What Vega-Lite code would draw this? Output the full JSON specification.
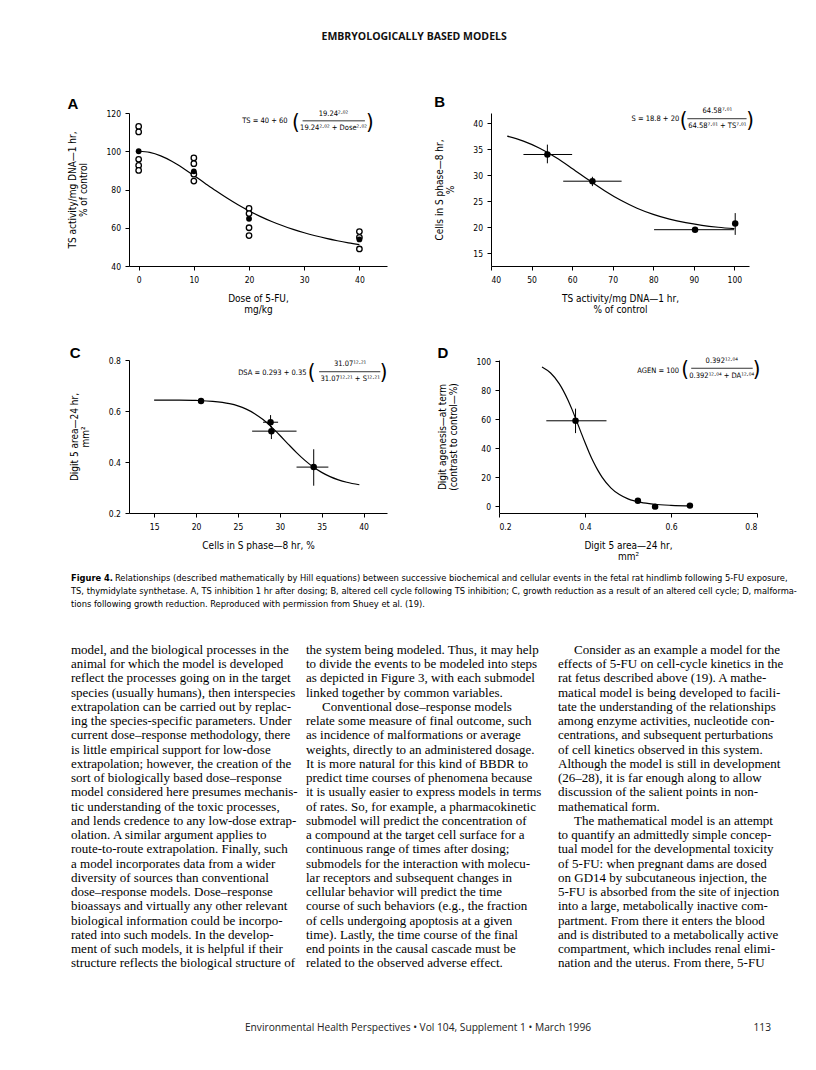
{
  "$schema": "https://vega.github.io/schema/vega-lite/v6.json",
  "padding": {"left": 67, "top": 32, "right": 5, "bottom": 5},
  "background": "white",
  "title": {"text": "EMBRYOLOGICALLY BASED MODELS", "font": "'Open Sans', sans-serif", "fontWeight": "bold", "fontSize": 10.5, "anchor": "middle", "frame": "bounds", "offset": 52.5, "dx": -18, "color": "#111"},
  "spacing": 12,
  "vconcat": [
    {
      "vconcat": [
        {
          "hconcat": [
            {
              "width": 258, "height": 153,
              "title": {"text": "A"},
              "layer": [
                {
                  "data": {"values": [
                    {"dose": 0, "ts": 100}, {"dose": 2, "ts": 99.39}, {"dose": 4, "ts": 97.59}, {"dose": 6, "ts": 94.79}, {"dose": 8, "ts": 91.28},
                    {"dose": 10, "ts": 87.37}, {"dose": 12, "ts": 83.31}, {"dose": 14, "ts": 79.31}, {"dose": 16, "ts": 75.52}, {"dose": 18, "ts": 72.01},
                    {"dose": 20, "ts": 68.82}, {"dose": 22, "ts": 65.97}, {"dose": 24, "ts": 63.41}, {"dose": 26, "ts": 61.15}, {"dose": 28, "ts": 59.15},
                    {"dose": 30, "ts": 57.37}, {"dose": 32, "ts": 55.81}, {"dose": 34, "ts": 54.42}, {"dose": 36, "ts": 53.2}, {"dose": 38, "ts": 52.11}, {"dose": 40, "ts": 51.14}
                  ]},
                  "mark": {"type": "line", "color": "#000", "strokeWidth": 1.2, "interpolate": "monotone"},
                  "encoding": {
                    "x": {"field": "dose", "type": "quantitative", "scale": {"domain": [-1.75, 45], "nice": false, "zero": false}, "axis": {"values": [0, 10, 20, 30, 40], "tickCount": 20, "title": ["Dose of 5-FU,", "mg/kg"]}},
                    "y": {"field": "ts", "type": "quantitative", "scale": {"domain": [40, 120], "nice": false, "zero": false}, "axis": {"values": [40, 60, 80, 100, 120], "tickCount": 20, "title": ["TS activity/mg DNA—1 hr,", "% of control"]}}
                  }
                },
                {
                  "data": {"values": [
                    {"dose": 0, "ts": 113.0, "kind": "individual"}, {"dose": 0, "ts": 110.1, "kind": "individual"}, {"dose": 0, "ts": 95.8, "kind": "individual"}, {"dose": 0, "ts": 92.6, "kind": "individual"}, {"dose": 0, "ts": 90.0, "kind": "individual"},
                    {"dose": 10, "ts": 96.5, "kind": "individual"}, {"dose": 10, "ts": 93.5, "kind": "individual"}, {"dose": 10, "ts": 88.0, "kind": "individual"}, {"dose": 10, "ts": 84.4, "kind": "individual"},
                    {"dose": 20, "ts": 70.1, "kind": "individual"}, {"dose": 20, "ts": 67.4, "kind": "individual"}, {"dose": 20, "ts": 60.0, "kind": "individual"}, {"dose": 20, "ts": 55.9, "kind": "individual"},
                    {"dose": 40, "ts": 58.0, "kind": "individual"}, {"dose": 40, "ts": 55.0, "kind": "individual"}, {"dose": 40, "ts": 48.9, "kind": "individual"},
                    {"dose": 0, "ts": 100, "kind": "mean"}, {"dose": 10, "ts": 89.5, "kind": "mean"}, {"dose": 20, "ts": 64.7, "kind": "mean"}, {"dose": 40, "ts": 53.9, "kind": "mean"}
                  ]},
                  "layer": [
                    {
                      "transform": [{"filter": "datum.kind === 'individual'"}],
                      "mark": {"type": "point", "shape": "circle", "filled": true, "fill": "#fff", "stroke": "#000", "strokeWidth": 1.3, "size": 30, "opacity": 1},
                      "encoding": {"x": {"field": "dose", "type": "quantitative"}, "y": {"field": "ts", "type": "quantitative"}}
                    },
                    {
                      "transform": [{"filter": "datum.kind === 'mean'"}],
                      "mark": {"type": "point", "shape": "circle", "filled": true, "color": "#000", "size": 34, "opacity": 1},
                      "encoding": {"x": {"field": "dose", "type": "quantitative"}, "y": {"field": "ts", "type": "quantitative"}}
                    }
                  ]
                },
                {"data": {"values": [{}]}, "mark": {"type": "text", "text": "TS = 40 + 60", "align": "right", "baseline": "middle", "fontSize": 7.5}, "encoding": {"x": {"datum": 27.0}, "y": {"datum": 116}}},
                {"data": {"values": [{}]}, "mark": {"type": "text", "text": "(", "align": "center", "baseline": "middle", "fontSize": 22}, "encoding": {"x": {"datum": 28.5}, "y": {"datum": 115.5}}},
                {"data": {"values": [{}]}, "mark": {"type": "text", "text": "19.24²·⁰²", "align": "center", "baseline": "middle", "fontSize": 7.5}, "encoding": {"x": {"datum": 35.3}, "y": {"datum": 119.6}}},
                {"data": {"values": [{}]}, "mark": {"type": "rule", "color": "#000", "strokeWidth": 0.8}, "encoding": {"x": {"datum": 29.7}, "x2": {"datum": 41}, "y": {"datum": 115.9}}},
                {"data": {"values": [{}]}, "mark": {"type": "text", "text": "19.24²·⁰² + Dose²·⁰²", "align": "center", "baseline": "middle", "fontSize": 7.5}, "encoding": {"x": {"datum": 35.3}, "y": {"datum": 112.2}}},
                {"data": {"values": [{}]}, "mark": {"type": "text", "text": ")", "align": "center", "baseline": "middle", "fontSize": 22}, "encoding": {"x": {"datum": 41.9}, "y": {"datum": 115.5}}}
              ]
            },
            {
              "width": 258, "height": 153,
              "title": {"text": "B"},
              "layer": [
                {
                  "data": {"values": [
                    {"ts": 44, "s": 37.53}, {"ts": 48, "s": 36.58}, {"ts": 52, "s": 35.21}, {"ts": 56, "s": 33.42}, {"ts": 60, "s": 31.32},
                    {"ts": 64, "s": 29.12}, {"ts": 68, "s": 27.01}, {"ts": 72, "s": 25.16}, {"ts": 76, "s": 23.64}, {"ts": 80, "s": 22.45},
                    {"ts": 84, "s": 21.53}, {"ts": 88, "s": 20.85}, {"ts": 92, "s": 20.34}, {"ts": 96, "s": 19.97}, {"ts": 100, "s": 19.69}
                  ]},
                  "mark": {"type": "line", "color": "#000", "strokeWidth": 1.2, "interpolate": "monotone"},
                  "encoding": {
                    "x": {"field": "ts", "type": "quantitative", "scale": {"domain": [40, 103.6], "nice": false, "zero": false}, "axis": {"values": [40, 50, 60, 70, 80, 90, 100], "tickCount": 20, "title": ["TS activity/mg DNA—1 hr,", "% of control"]}},
                    "y": {"field": "s", "type": "quantitative", "scale": {"domain": [12.5, 42], "nice": false, "zero": false}, "axis": {"values": [15, 20, 25, 30, 35, 40], "tickCount": 20, "title": ["Cells in S phase—8 hr,", "%"]}}
                  }
                },
                {
                  "data": {"values": [
                    {"ts": 53.9, "s": 34.0, "ts_lo": 48.0, "ts_hi": 60.0, "s_lo": 32.3, "s_hi": 35.9},
                    {"ts": 65.0, "s": 28.85, "ts_lo": 57.8, "ts_hi": 72.2, "s_lo": 27.9, "s_hi": 29.7},
                    {"ts": 90.3, "s": 19.5, "ts_lo": 80.2, "ts_hi": 99.9, "s_lo": 19.3, "s_hi": 19.7},
                    {"ts": 100.2, "s": 20.7, "ts_lo": 100.2, "ts_hi": 100.2, "s_lo": 18.5, "s_hi": 22.7}
                  ]},
                  "layer": [
                    {"mark": {"type": "rule", "color": "#000", "strokeWidth": 1}, "encoding": {"x": {"field": "ts_lo", "type": "quantitative"}, "x2": {"field": "ts_hi"}, "y": {"field": "s", "type": "quantitative"}}},
                    {"mark": {"type": "rule", "color": "#000", "strokeWidth": 1}, "encoding": {"x": {"field": "ts", "type": "quantitative"}, "y": {"field": "s_lo", "type": "quantitative"}, "y2": {"field": "s_hi"}}},
                    {"mark": {"type": "point", "shape": "circle", "filled": true, "color": "#000", "size": 42, "opacity": 1}, "encoding": {"x": {"field": "ts", "type": "quantitative"}, "y": {"field": "s", "type": "quantitative"}}}
                  ]
                },
                {"data": {"values": [{}]}, "mark": {"type": "text", "text": "S = 18.8 + 20", "align": "right", "baseline": "middle", "fontSize": 7.5}, "encoding": {"x": {"datum": 86.4}, "y": {"datum": 40.8}}},
                {"data": {"values": [{}]}, "mark": {"type": "text", "text": "(", "align": "center", "baseline": "middle", "fontSize": 22}, "encoding": {"x": {"datum": 87.5}, "y": {"datum": 40.6}}},
                {"data": {"values": [{}]}, "mark": {"type": "text", "text": "64.58⁷·⁰¹", "align": "center", "baseline": "middle", "fontSize": 7.5}, "encoding": {"x": {"datum": 95.8}, "y": {"datum": 42.3}}},
                {"data": {"values": [{}]}, "mark": {"type": "rule", "color": "#000", "strokeWidth": 0.8}, "encoding": {"x": {"datum": 88.4}, "x2": {"datum": 103.0}, "y": {"datum": 40.9}}},
                {"data": {"values": [{}]}, "mark": {"type": "text", "text": "64.58⁷·⁰¹ + TS⁷·⁰¹", "align": "center", "baseline": "middle", "fontSize": 7.5}, "encoding": {"x": {"datum": 95.8}, "y": {"datum": 39.4}}},
                {"data": {"values": [{}]}, "mark": {"type": "text", "text": ")", "align": "center", "baseline": "middle", "fontSize": 22}, "encoding": {"x": {"datum": 103.9}, "y": {"datum": 40.6}}}
              ]
            }
          ],
          "spacing": 47
        },
        {
          "hconcat": [
            {
              "width": 258, "height": 153,
              "title": {"text": "C", "offset": -4.5},
              "layer": [
                {
                  "data": {"values": [
                    {"s": 15, "dsa": 0.643}, {"s": 18, "dsa": 0.6426}, {"s": 20, "dsa": 0.6414}, {"s": 22, "dsa": 0.6379}, {"s": 24, "dsa": 0.6286},
                    {"s": 25, "dsa": 0.62}, {"s": 26, "dsa": 0.6073}, {"s": 27, "dsa": 0.5896}, {"s": 28, "dsa": 0.5663}, {"s": 29, "dsa": 0.5376},
                    {"s": 30, "dsa": 0.5049}, {"s": 31, "dsa": 0.4704}, {"s": 32, "dsa": 0.4369}, {"s": 33, "dsa": 0.4064}, {"s": 34, "dsa": 0.3804},
                    {"s": 35, "dsa": 0.3593}, {"s": 36, "dsa": 0.3427}, {"s": 37, "dsa": 0.3301}, {"s": 38, "dsa": 0.3206}, {"s": 39.5, "dsa": 0.3107}
                  ]},
                  "mark": {"type": "line", "color": "#000", "strokeWidth": 1.2, "interpolate": "monotone"},
                  "encoding": {
                    "x": {"field": "s", "type": "quantitative", "scale": {"domain": [12, 42.8], "nice": false, "zero": false}, "axis": {"values": [15, 20, 25, 30, 35, 40], "tickCount": 20, "title": "Cells in S phase—8 hr, %"}},
                    "y": {"field": "dsa", "type": "quantitative", "scale": {"domain": [0.2, 0.8], "nice": false, "zero": false}, "axis": {"values": [0.2, 0.4, 0.6, 0.8], "tickCount": 20, "format": ".1f", "title": ["Digit 5 area—24 hr,", "mm²"]}}
                  }
                },
                {
                  "data": {"values": [
                    {"s": 20.6, "dsa": 0.639, "s_lo": 20.6, "s_hi": 20.6, "dsa_lo": 0.639, "dsa_hi": 0.639},
                    {"s": 28.9, "dsa": 0.556, "s_lo": 28.0, "s_hi": 29.8, "dsa_lo": 0.536, "dsa_hi": 0.584},
                    {"s": 29.0, "dsa": 0.521, "s_lo": 26.7, "s_hi": 32.0, "dsa_lo": 0.49, "dsa_hi": 0.541},
                    {"s": 34.05, "dsa": 0.38, "s_lo": 32.0, "s_hi": 35.8, "dsa_lo": 0.307, "dsa_hi": 0.45}
                  ]},
                  "layer": [
                    {"mark": {"type": "rule", "color": "#000", "strokeWidth": 1}, "encoding": {"x": {"field": "s_lo", "type": "quantitative"}, "x2": {"field": "s_hi"}, "y": {"field": "dsa", "type": "quantitative"}}},
                    {"mark": {"type": "rule", "color": "#000", "strokeWidth": 1}, "encoding": {"x": {"field": "s", "type": "quantitative"}, "y": {"field": "dsa_lo", "type": "quantitative"}, "y2": {"field": "dsa_hi"}}},
                    {"mark": {"type": "point", "shape": "circle", "filled": true, "color": "#000", "size": 42, "opacity": 1}, "encoding": {"x": {"field": "s", "type": "quantitative"}, "y": {"field": "dsa", "type": "quantitative"}}}
                  ]
                },
                {"data": {"values": [{}]}, "mark": {"type": "text", "text": "DSA = 0.293 + 0.35", "align": "right", "baseline": "middle", "fontSize": 7.5}, "encoding": {"x": {"datum": 33.2}, "y": {"datum": 0.748}}},
                {"data": {"values": [{}]}, "mark": {"type": "text", "text": "(", "align": "center", "baseline": "middle", "fontSize": 22}, "encoding": {"x": {"datum": 33.8}, "y": {"datum": 0.752}}},
                {"data": {"values": [{}]}, "mark": {"type": "text", "text": "31.07¹²·²¹", "align": "center", "baseline": "middle", "fontSize": 7.5}, "encoding": {"x": {"datum": 38.4}, "y": {"datum": 0.785}}},
                {"data": {"values": [{}]}, "mark": {"type": "rule", "color": "#000", "strokeWidth": 0.8}, "encoding": {"x": {"datum": 34.7}, "x2": {"datum": 42.0}, "y": {"datum": 0.754}}},
                {"data": {"values": [{}]}, "mark": {"type": "text", "text": "31.07¹²·²¹ + S¹²·²¹", "align": "center", "baseline": "middle", "fontSize": 7.5}, "encoding": {"x": {"datum": 38.4}, "y": {"datum": 0.724}}},
                {"data": {"values": [{}]}, "mark": {"type": "text", "text": ")", "align": "center", "baseline": "middle", "fontSize": 22}, "encoding": {"x": {"datum": 42.4}, "y": {"datum": 0.752}}}
              ]
            },
            {
              "width": 258, "height": 153,
              "title": {"text": "D", "offset": -4.5},
              "layer": [
                {
                  "data": {"values": [
                    {"da": 0.30, "agen": 96.16}, {"da": 0.32, "agen": 92.01}, {"da": 0.34, "agen": 84.73}, {"da": 0.36, "agen": 73.59}, {"da": 0.37, "agen": 66.72},
                    {"da": 0.38, "agen": 59.25}, {"da": 0.39, "agen": 51.54}, {"da": 0.40, "agen": 43.95}, {"da": 0.41, "agen": 36.81}, {"da": 0.42, "agen": 30.35},
                    {"da": 0.43, "agen": 24.72}, {"da": 0.44, "agen": 19.93}, {"da": 0.46, "agen": 12.71}, {"da": 0.48, "agen": 8.03}, {"da": 0.50, "agen": 5.07},
                    {"da": 0.53, "agen": 2.58}, {"da": 0.56, "agen": 1.35}, {"da": 0.60, "agen": 0.59}, {"da": 0.65, "agen": 0.23}
                  ]},
                  "mark": {"type": "line", "color": "#000", "strokeWidth": 1.2, "interpolate": "monotone"},
                  "encoding": {
                    "x": {"field": "da", "type": "quantitative", "scale": {"domain": [0.2, 0.8], "nice": false, "zero": false}, "axis": {"values": [0.2, 0.4, 0.6, 0.8], "tickCount": 20, "format": ".1f", "title": ["Digit 5 area—24 hr,", "mm²"]}},
                    "y": {"field": "agen", "type": "quantitative", "scale": {"domain": [-4.7, 101], "nice": false, "zero": false}, "axis": {"values": [0, 20, 40, 60, 80, 100], "tickCount": 20, "title": ["Digit agenesis—at term", "(contrast to control—%)"]}}
                  }
                },
                {
                  "data": {"values": [
                    {"da": 0.378, "agen": 59.0, "da_lo": 0.31, "da_hi": 0.45, "agen_lo": 50.5, "agen_hi": 67.4},
                    {"da": 0.523, "agen": 3.7, "da_lo": 0.523, "da_hi": 0.523, "agen_lo": 3.7, "agen_hi": 3.7},
                    {"da": 0.563, "agen": -0.3, "da_lo": 0.563, "da_hi": 0.563, "agen_lo": -0.3, "agen_hi": -0.3},
                    {"da": 0.644, "agen": 0.4, "da_lo": 0.644, "da_hi": 0.644, "agen_lo": 0.4, "agen_hi": 0.4}
                  ]},
                  "layer": [
                    {"mark": {"type": "rule", "color": "#000", "strokeWidth": 1}, "encoding": {"x": {"field": "da_lo", "type": "quantitative"}, "x2": {"field": "da_hi"}, "y": {"field": "agen", "type": "quantitative"}}},
                    {"mark": {"type": "rule", "color": "#000", "strokeWidth": 1}, "encoding": {"x": {"field": "da", "type": "quantitative"}, "y": {"field": "agen_lo", "type": "quantitative"}, "y2": {"field": "agen_hi"}}},
                    {"mark": {"type": "point", "shape": "circle", "filled": true, "color": "#000", "size": 42, "opacity": 1}, "encoding": {"x": {"field": "da", "type": "quantitative"}, "y": {"field": "agen", "type": "quantitative"}}}
                  ]
                },
                {"data": {"values": [{}]}, "mark": {"type": "text", "text": "AGEN = 100", "align": "right", "baseline": "middle", "fontSize": 7.5}, "encoding": {"x": {"datum": 0.619}, "y": {"datum": 93.5}}},
                {"data": {"values": [{}]}, "mark": {"type": "text", "text": "(", "align": "center", "baseline": "middle", "fontSize": 22}, "encoding": {"x": {"datum": 0.633}, "y": {"datum": 94.8}}},
                {"data": {"values": [{}]}, "mark": {"type": "text", "text": "0.392¹²·⁰⁴", "align": "center", "baseline": "middle", "fontSize": 7.5}, "encoding": {"x": {"datum": 0.718}, "y": {"datum": 100.5}}},
                {"data": {"values": [{}]}, "mark": {"type": "rule", "color": "#000", "strokeWidth": 0.8}, "encoding": {"x": {"datum": 0.647}, "x2": {"datum": 0.79}, "y": {"datum": 95.3}}},
                {"data": {"values": [{}]}, "mark": {"type": "text", "text": "0.392¹²·⁰⁴ + DA¹²·⁰⁴", "align": "center", "baseline": "middle", "fontSize": 7.5}, "encoding": {"x": {"datum": 0.718}, "y": {"datum": 90.0}}},
                {"data": {"values": [{}]}, "mark": {"type": "text", "text": ")", "align": "center", "baseline": "middle", "fontSize": 22}, "encoding": {"x": {"datum": 0.799}, "y": {"datum": 94.8}}}
              ]
            }
          ],
          "spacing": 49
        }
      ],
      "spacing": 30
    },
    {
      "vconcat": [
        {
          "width": 648, "height": 26,
          "data": {"values": [
            {"line": 1, "part": "label", "text": "Figure 4."},
            {"line": 1, "part": "rest", "text": "Relationships (described mathematically by Hill equations) between successive biochemical and cellular events in the fetal rat hindlimb following 5-FU exposure,"},
            {"line": 2, "part": "body", "text": "TS, thymidylate synthetase. A, TS inhibition 1 hr after dosing; B, altered cell cycle following TS inhibition; C, growth reduction as a result of an altered cell cycle; D, malforma-"},
            {"line": 3, "part": "body", "text": "tions following growth reduction. Reproduced with permission from Shuey et al. (19)."}
          ]},
          "layer": [
            {
              "transform": [{"filter": "datum.part === 'label'"}],
              "mark": {"type": "text", "align": "left", "baseline": "middle", "fontSize": 9.25, "fontWeight": "bold", "dx": -58},
              "encoding": {
                "x": {"datum": 0, "type": "quantitative", "scale": {"domain": [0, 1]}, "axis": null},
                "y": {"field": "line", "type": "ordinal", "scale": {"type": "point", "padding": 0, "domain": [1, 2, 3]}, "axis": null},
                "text": {"field": "text"}
              }
            },
            {
              "transform": [{"filter": "datum.part === 'rest'"}],
              "mark": {"type": "text", "align": "left", "baseline": "middle", "fontSize": 9.25, "dx": -14},
              "encoding": {
                "x": {"datum": 0, "type": "quantitative", "axis": null},
                "y": {"field": "line", "type": "ordinal", "axis": null},
                "text": {"field": "text"}
              }
            },
            {
              "transform": [{"filter": "datum.part === 'body'"}],
              "mark": {"type": "text", "align": "left", "baseline": "middle", "fontSize": 9.25, "dx": -58},
              "encoding": {
                "x": {"datum": 0, "type": "quantitative", "axis": null},
                "y": {"field": "line", "type": "ordinal", "axis": null},
                "text": {"field": "text"}
              }
            }
          ]
        },
        {
          "hconcat": [
            {
              "width": 165, "height": 313.3,
              "data": {"values": [
                {"line": 1, "indent": 0, "text": "model, and the biological processes in the"},
                {"line": 2, "indent": 0, "text": "animal for which the model is developed"},
                {"line": 3, "indent": 0, "text": "reflect the processes going on in the target"},
                {"line": 4, "indent": 0, "text": "species (usually humans), then interspecies"},
                {"line": 5, "indent": 0, "text": "extrapolation can be carried out by replac-"},
                {"line": 6, "indent": 0, "text": "ing the species-specific parameters. Under"},
                {"line": 7, "indent": 0, "text": "current dose–response methodology, there"},
                {"line": 8, "indent": 0, "text": "is little empirical support for low-dose"},
                {"line": 9, "indent": 0, "text": "extrapolation; however, the creation of the"},
                {"line": 10, "indent": 0, "text": "sort of biologically based dose–response"},
                {"line": 11, "indent": 0, "text": "model considered here presumes mechanis-"},
                {"line": 12, "indent": 0, "text": "tic understanding of the toxic processes,"},
                {"line": 13, "indent": 0, "text": "and lends credence to any low-dose extrap-"},
                {"line": 14, "indent": 0, "text": "olation. A similar argument applies to"},
                {"line": 15, "indent": 0, "text": "route-to-route extrapolation. Finally, such"},
                {"line": 16, "indent": 0, "text": "a model incorporates data from a wider"},
                {"line": 17, "indent": 0, "text": "diversity of sources than conventional"},
                {"line": 18, "indent": 0, "text": "dose–response models. Dose–response"},
                {"line": 19, "indent": 0, "text": "bioassays and virtually any other relevant"},
                {"line": 20, "indent": 0, "text": "biological information could be incorpo-"},
                {"line": 21, "indent": 0, "text": "rated into such models. In the develop-"},
                {"line": 22, "indent": 0, "text": "ment of such models, it is helpful if their"},
                {"line": 23, "indent": 0, "text": "structure reflects the biological structure of"}
              ]},
              "mark": {"type": "text", "align": "left", "baseline": "middle", "font": "'Liberation Serif', 'DejaVu Serif', serif", "fontSize": 13, "dx": -58},
              "encoding": {
                "x": {"field": "indent", "type": "quantitative", "scale": {"domain": [0, 10.3]}, "axis": null},
                "y": {"field": "line", "type": "ordinal", "scale": {"type": "point", "padding": 0}, "axis": null},
                "text": {"field": "text"}
              }
            },
            {
              "width": 244, "height": 313.3,
              "data": {"values": [
                {"line": 1, "indent": 0, "text": "the system being modeled. Thus, it may help"},
                {"line": 2, "indent": 0, "text": "to divide the events to be modeled into steps"},
                {"line": 3, "indent": 0, "text": "as depicted in Figure 3, with each submodel"},
                {"line": 4, "indent": 0, "text": "linked together by common variables."},
                {"line": 5, "indent": 1, "text": "Conventional dose–response models"},
                {"line": 6, "indent": 0, "text": "relate some measure of final outcome, such"},
                {"line": 7, "indent": 0, "text": "as incidence of malformations or average"},
                {"line": 8, "indent": 0, "text": "weights, directly to an administered dosage."},
                {"line": 9, "indent": 0, "text": "It is more natural for this kind of BBDR to"},
                {"line": 10, "indent": 0, "text": "predict time courses of phenomena because"},
                {"line": 11, "indent": 0, "text": "it is usually easier to express models in terms"},
                {"line": 12, "indent": 0, "text": "of rates. So, for example, a pharmacokinetic"},
                {"line": 13, "indent": 0, "text": "submodel will predict the concentration of"},
                {"line": 14, "indent": 0, "text": "a compound at the target cell surface for a"},
                {"line": 15, "indent": 0, "text": "continuous range of times after dosing;"},
                {"line": 16, "indent": 0, "text": "submodels for the interaction with molecu-"},
                {"line": 17, "indent": 0, "text": "lar receptors and subsequent changes in"},
                {"line": 18, "indent": 0, "text": "cellular behavior will predict the time"},
                {"line": 19, "indent": 0, "text": "course of such behaviors (e.g., the fraction"},
                {"line": 20, "indent": 0, "text": "of cells undergoing apoptosis at a given"},
                {"line": 21, "indent": 0, "text": "time). Lastly, the time course of the final"},
                {"line": 22, "indent": 0, "text": "end points in the causal cascade must be"},
                {"line": 23, "indent": 0, "text": "related to the observed adverse effect."}
              ]},
              "mark": {"type": "text", "align": "left", "baseline": "middle", "font": "'Liberation Serif', 'DejaVu Serif', serif", "fontSize": 13},
              "encoding": {
                "x": {"field": "indent", "type": "quantitative", "scale": {"domain": [0, 15.25]}, "axis": null},
                "y": {"field": "line", "type": "ordinal", "scale": {"type": "point", "padding": 0}, "axis": null},
                "text": {"field": "text"}
              }
            },
            {
              "width": 217, "height": 313.3,
              "data": {"values": [
                {"line": 1, "indent": 1, "text": "Consider as an example a model for the"},
                {"line": 2, "indent": 0, "text": "effects of 5-FU on cell-cycle kinetics in the"},
                {"line": 3, "indent": 0, "text": "rat fetus described above (19). A mathe-"},
                {"line": 4, "indent": 0, "text": "matical model is being developed to facili-"},
                {"line": 5, "indent": 0, "text": "tate the understanding of the relationships"},
                {"line": 6, "indent": 0, "text": "among enzyme activities, nucleotide con-"},
                {"line": 7, "indent": 0, "text": "centrations, and subsequent perturbations"},
                {"line": 8, "indent": 0, "text": "of cell kinetics observed in this system."},
                {"line": 9, "indent": 0, "text": "Although the model is still in development"},
                {"line": 10, "indent": 0, "text": "(26–28), it is far enough along to allow"},
                {"line": 11, "indent": 0, "text": "discussion of the salient points in non-"},
                {"line": 12, "indent": 0, "text": "mathematical form."},
                {"line": 13, "indent": 1, "text": "The mathematical model is an attempt"},
                {"line": 14, "indent": 0, "text": "to quantify an admittedly simple concep-"},
                {"line": 15, "indent": 0, "text": "tual model for the developmental toxicity"},
                {"line": 16, "indent": 0, "text": "of 5-FU: when pregnant dams are dosed"},
                {"line": 17, "indent": 0, "text": "on GD14 by subcutaneous injection, the"},
                {"line": 18, "indent": 0, "text": "5-FU is absorbed from the site of injection"},
                {"line": 19, "indent": 0, "text": "into a large, metabolically inactive com-"},
                {"line": 20, "indent": 0, "text": "partment. From there it enters the blood"},
                {"line": 21, "indent": 0, "text": "and is distributed to a metabolically active"},
                {"line": 22, "indent": 0, "text": "compartment, which includes renal elimi-"},
                {"line": 23, "indent": 0, "text": "nation and the uterus. From there, 5-FU"}
              ]},
              "mark": {"type": "text", "align": "left", "baseline": "middle", "font": "'Liberation Serif', 'DejaVu Serif', serif", "fontSize": 13},
              "encoding": {
                "x": {"field": "indent", "type": "quantitative", "scale": {"domain": [0, 13.56]}, "axis": null},
                "y": {"field": "line", "type": "ordinal", "scale": {"type": "point", "padding": 0}, "axis": null},
                "text": {"field": "text"}
              }
            }
          ],
          "spacing": 8
        }
      ],
      "spacing": 34
    },
    {
      "width": 644, "height": 90,
      "data": {"values": [
        {"part": "journal", "text": "Environmental Health Perspectives • Vol 104, Supplement 1 • March 1996"},
        {"part": "page", "text": "113"}
      ]},
      "layer": [
        {
          "transform": [{"filter": "datum.part === 'journal'"}],
          "mark": {"type": "text", "align": "center", "baseline": "middle", "font": "'Open Sans', sans-serif", "fontSize": 10.2, "color": "#222", "dx": -33},
          "encoding": {"text": {"field": "text"}}
        },
        {
          "transform": [{"filter": "datum.part === 'page'"}],
          "mark": {"type": "text", "align": "right", "baseline": "middle", "font": "'Open Sans', sans-serif", "fontSize": 10.2, "color": "#222", "dx": -2},
          "encoding": {
            "x": {"datum": 1, "type": "quantitative", "scale": {"domain": [0, 1]}, "axis": null},
            "text": {"field": "text"}
          }
        }
      ]
    }
  ],
  "config": {
    "view": {"stroke": null},
    "axis": {
      "grid": false, "domainColor": "#000", "tickColor": "#000", "labelColor": "#000", "titleColor": "#000",
      "domainWidth": 1, "tickWidth": 1, "tickSize": 4, "labelOverlap": false, "tickCount": 20,
      "labelFont": "'Liberation Sans Narrow', 'Arial Narrow', 'DejaVu Sans Condensed', sans-serif", "labelFontSize": 8.5, "labelPadding": 5,
      "titleFont": "'Liberation Sans Narrow', 'Arial Narrow', 'DejaVu Sans Condensed', sans-serif", "titleFontSize": 10, "titleFontWeight": "normal",
      "titlePadding": 10, "titleLineHeight": 11
    },
    "axisY": {"titlePadding": 17.5, "labelPadding": 4.5},
    "title": {"font": "'Liberation Sans', Arial, sans-serif", "fontSize": 15, "fontWeight": "bold", "anchor": "start", "frame": "bounds", "offset": -3, "color": "#000"},
    "text": {"font": "'Liberation Sans Narrow', 'Arial Narrow', 'DejaVu Sans Condensed', sans-serif", "color": "#000"}
  }
}
